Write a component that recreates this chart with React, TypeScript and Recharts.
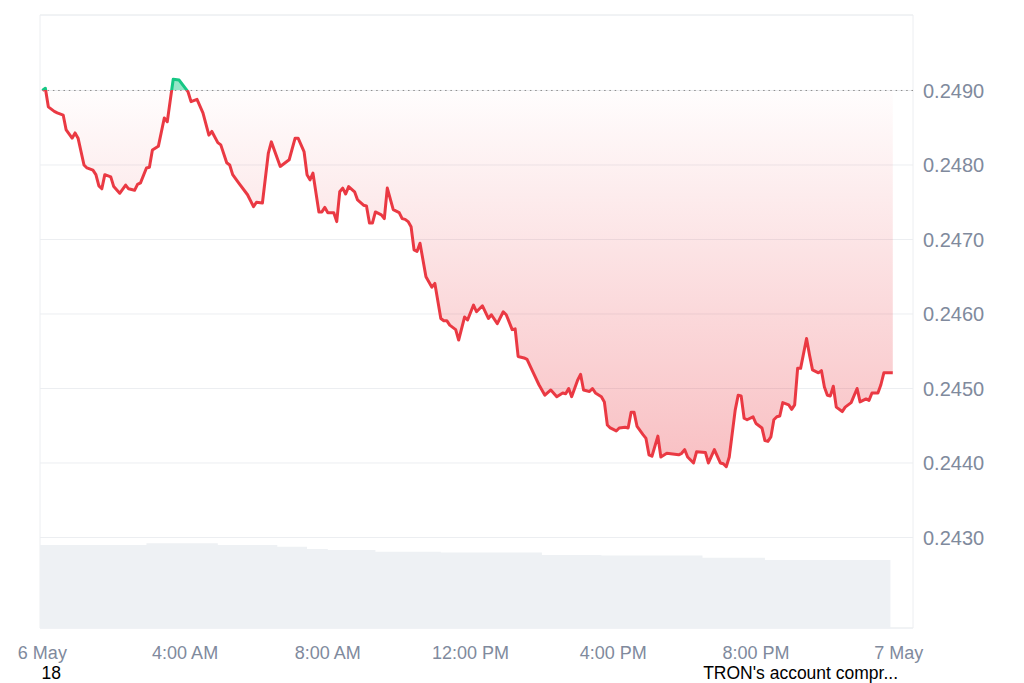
import {
  ComposedChart,
  Area,
  Line,
  XAxis,
  YAxis,
  CartesianGrid,
  ReferenceLine,
  ReferenceArea,
} from 'recharts';

// minutes after midnight, 6 May
const priceTimes = [
  0, 5, 10, 20, 25, 35, 40, 50, 55, 60, 70, 75, 85, 90, 95, 100, 105, 115, 120, 130,
  140, 145, 155, 160, 165, 175, 180, 185, 195, 205, 210, 220, 230, 245, 250, 260, 270, 280, 285, 295,
  300, 310, 315, 320, 330, 345, 355, 360, 370, 380, 385, 400, 410, 415, 425, 430, 440, 445, 450, 455,
  465, 470, 475, 480, 490, 495, 500, 505, 510, 515, 525, 530, 540, 545, 550, 555, 560, 570, 575, 580,
  590, 600, 605, 610, 615, 620, 625, 630, 635, 645, 655, 660, 670, 675, 680, 685, 695, 700, 710, 715,
  725, 730, 740, 750, 755, 765, 775, 780, 790, 795, 800, 810, 815, 825, 835, 845, 855, 865, 875, 880,
  885, 890, 900, 905, 910, 920, 925, 930, 940, 945, 950, 955, 965, 970, 980, 985, 990, 995, 1000, 1010,
  1015, 1020, 1025, 1035, 1040, 1050, 1060, 1070, 1075, 1080, 1085, 1095, 1100, 1115, 1120, 1130, 1140, 1145, 1150, 1155,
  1165, 1170, 1175, 1180, 1185, 1195, 1200, 1205, 1210, 1215, 1220, 1225, 1230, 1235, 1240, 1245, 1255, 1260, 1265, 1270,
  1275, 1285, 1290, 1295, 1305, 1310, 1315, 1320, 1325, 1330, 1335, 1345, 1350, 1360, 1370, 1375, 1385, 1390, 1395, 1405,
  1410, 1415, 1430,
];

const prices = [
  0.249, 0.24903, 0.24878, 0.24872, 0.2487, 0.24867, 0.24847, 0.24836, 0.24843, 0.24836, 0.248, 0.24796, 0.24793, 0.24787, 0.24772, 0.24768, 0.24787, 0.24784, 0.24771, 0.24762,
  0.24773, 0.24768, 0.24766, 0.24774, 0.24776, 0.24796, 0.24797, 0.2482, 0.24825, 0.24863, 0.24858, 0.24915, 0.24914, 0.24898, 0.24885, 0.24888, 0.2487, 0.2484, 0.24845, 0.2483,
  0.24827, 0.24803, 0.248, 0.24787, 0.24776, 0.2476, 0.24744, 0.2475, 0.24749, 0.24816, 0.24831, 0.24798, 0.24804, 0.24807, 0.24836, 0.24836, 0.24818, 0.24787, 0.2478, 0.24789,
  0.24737, 0.24737, 0.24743, 0.24736, 0.24736, 0.24724, 0.24764, 0.24769, 0.24761, 0.24771, 0.24764, 0.24753, 0.24746, 0.24745, 0.24722, 0.24722, 0.24737, 0.24733, 0.24728, 0.24769,
  0.2474, 0.24736, 0.24728, 0.24727, 0.24724, 0.24717, 0.24686, 0.24684, 0.24695, 0.2465, 0.24636, 0.24641, 0.24594, 0.24591, 0.24591, 0.24585, 0.24579, 0.24565, 0.24596, 0.24592,
  0.24612, 0.24603, 0.24611, 0.24594, 0.24599, 0.24587, 0.24603, 0.24599, 0.24579, 0.2458, 0.24543, 0.24541, 0.24539, 0.24522, 0.24505, 0.24491, 0.24498, 0.24489, 0.24494, 0.24493,
  0.245, 0.24489, 0.24511, 0.24519, 0.24498, 0.24496, 0.245, 0.24494, 0.24489, 0.24482, 0.24451, 0.24447, 0.24443, 0.24447, 0.24448, 0.24447, 0.24468, 0.24468, 0.24449, 0.24438,
  0.24433, 0.24411, 0.24409, 0.24436, 0.24408, 0.24413, 0.24412, 0.24411, 0.24413, 0.24418, 0.24408, 0.244, 0.24415, 0.24414, 0.244, 0.24418, 0.244, 0.24399, 0.24395, 0.24408,
  0.24471, 0.24491, 0.2449, 0.2446, 0.24458, 0.24462, 0.24453, 0.2445, 0.24447, 0.2443, 0.24429, 0.24435, 0.24458, 0.24462, 0.24463, 0.24481, 0.24478, 0.24472, 0.24478, 0.24527,
  0.24527, 0.24567, 0.24545, 0.24525, 0.24521, 0.24524, 0.24502, 0.24491, 0.2449, 0.24503, 0.24475, 0.24469, 0.24475, 0.24481, 0.245, 0.24482, 0.24486, 0.24484, 0.24494, 0.24494,
  0.24505, 0.24521, 0.24521,
];

const openPrice = 0.249;

const volumeTimes = [-4, 175, 295, 395, 445, 480, 560, 670, 840, 940, 1110, 1215, 1426];
const volumes = [325, 332, 325, 318, 309, 305, 299, 296, 286, 284, 275, 266, 266];

const timeTicks = [0, 240, 480, 720, 960, 1200, 1440];
const timeLabels = ['6 May', '4:00 AM', '8:00 AM', '12:00 PM', '4:00 PM', '8:00 PM', '7 May'];

const priceTicks = [0.243, 0.244, 0.245, 0.246, 0.247, 0.248, 0.249];

const newsTimes = [15, 1275];
const newsLabels = ['18', "TRON's account compr..."];

const UP = '#16c784';
const DOWN = '#ea3943';
const FONT = '"Liberation Sans", Arial, sans-serif';

const priceData = priceTimes.map((t, i) => ({ t, price: prices[i] }));
const volumeData = volumeTimes.map((t, i) => ({ t, vol: volumes[i] }));
const newsData = newsTimes.map((t) => ({ t, mark: 0 }));

const maxP = Math.max(...prices);
const minP = Math.min(...prices);
const split = (maxP - openPrice) / (maxP - minP);

export default function App() {
  return (
    <div>
      <style>{'body{margin:0;overflow:hidden}'}</style>
      <ComposedChart width={1024} height={683} margin={{ top: 15, right: 0, bottom: 0, left: 40 }}>
        <defs>
          <linearGradient id="lineGrad" x1="0" y1="0" x2="0" y2="1">
            <stop offset={0} stopColor={UP} />
            <stop offset={split} stopColor={UP} />
            <stop offset={split} stopColor={DOWN} />
            <stop offset={1} stopColor={DOWN} />
          </linearGradient>
          <linearGradient id="fillGrad" x1="0" y1="0" x2="0" y2="1">
            <stop offset={0} stopColor={UP} stopOpacity={0.45} />
            <stop offset={split} stopColor={UP} stopOpacity={0.45} />
            <stop offset={split} stopColor={DOWN} stopOpacity={0.01} />
            <stop offset={1} stopColor={DOWN} stopOpacity={0.32} />
          </linearGradient>
        </defs>
        <CartesianGrid vertical={false} stroke="#eceef1" />
        <ReferenceArea x1={-4} x2={1464} y1={0.241785} y2={0.250013} fill="none" stroke="#eceef1" />
        <XAxis
          dataKey="t"
          type="number"
          domain={[-4, 1464]}
          ticks={timeTicks}
          interval={0}
          tickFormatter={(v) => timeLabels[timeTicks.indexOf(v)]}
          axisLine={false}
          tickLine={false}
          tickMargin={12}
          height={29}
          tick={{ fill: '#808a9d', fontSize: 18, fontFamily: FONT }}
        />
        <XAxis
          xAxisId="news"
          dataKey="t"
          type="number"
          domain={[-4, 1464]}
          ticks={newsTimes}
          interval={0}
          tickFormatter={(v) => newsLabels[newsTimes.indexOf(v)]}
          axisLine={false}
          tickLine={false}
          tickMargin={4}
          height={26}
          tick={{ fill: '#000', fontSize: 17.5, fontFamily: FONT }}
        />
        <YAxis
          orientation="right"
          type="number"
          domain={[0.241785, 0.250013]}
          ticks={priceTicks}
          interval={0}
          tickFormatter={(v) => v.toFixed(4)}
          axisLine={false}
          tickLine={false}
          tickMargin={4}
          width={111}
          tick={{ fill: '#808a9d', fontSize: 20, fontFamily: FONT }}
        />
        <YAxis yAxisId="vol" hide domain={[0, 2400]} />
        <Area
          data={volumeData}
          yAxisId="vol"
          dataKey="vol"
          type="stepAfter"
          stroke="none"
          fill="#eef1f4"
          fillOpacity={1}
          isAnimationActive={false}
        />
        <Line
          data={newsData}
          xAxisId="news"
          yAxisId="vol"
          dataKey="mark"
          stroke="none"
          dot={false}
          activeDot={false}
          isAnimationActive={false}
        />
        <ReferenceLine y={openPrice} stroke="#8c8c8c" strokeDasharray="1.5 3.8" />
        <Area
          data={priceData}
          dataKey="price"
          type="linear"
          baseValue={openPrice}
          stroke="url(#lineGrad)"
          strokeWidth={3}
          strokeLinejoin="round"
          fill="url(#fillGrad)"
          fillOpacity={1}
          dot={false}
          activeDot={false}
          isAnimationActive={false}
        />
      </ComposedChart>
    </div>
  );
}
